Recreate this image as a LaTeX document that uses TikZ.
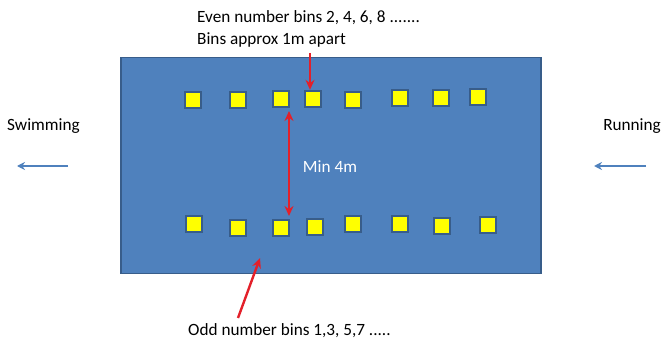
\documentclass[tikz,border=0pt]{standalone}
\usepackage{fontspec}
\setmainfont{Carlito}
\usetikzlibrary{arrows.meta}
\definecolor{poolblue}{HTML}{4F81BD}
\definecolor{pooledge}{HTML}{385D8A}
\definecolor{binyellow}{HTML}{FFFF00}
\definecolor{arrowred}{HTML}{E3202A}
\tikzset{
  bin/.style={draw=pooledge, line width=1.8pt, fill=binyellow, minimum width=16.5pt, minimum height=16.5pt, inner sep=0pt},
  lbl/.style={font=\fontsize{17.2}{20}\selectfont, text=black, inner sep=0pt},
  redarrow/.style={draw=arrowred, line width=2.4pt, -{Stealth[length=10pt,width=9pt]}},
  bluearrow/.style={draw=poolblue, line width=1.8pt, -{Stealth[length=8pt,width=8pt]}}
}
\begin{document}
\begin{tikzpicture}[x=1pt,y=-1pt]
\useasboundingbox (0,0) rectangle (664,339);
% pool
\node[draw=pooledge, line width=1.5pt, fill=poolblue, minimum width=420pt, minimum height=216pt, inner sep=0pt] (pool) at (331,165.5) {};
% top row bins
\node[bin] (t1) at (193,100) {};
\node[bin] (t2) at (238,100) {};
\node[bin] (t3) at (281,99) {};
\node[bin] (t4) at (313,99) {};
\node[bin] (t5) at (353,100) {};
\node[bin] (t6) at (400,98) {};
\node[bin] (t7) at (441,98) {};
\node[bin] (t8) at (478,97) {};
% bottom row bins
\node[bin] (b1) at (194,224) {};
\node[bin] (b2) at (238,228) {};
\node[bin] (b3) at (281,228) {};
\node[bin] (b4) at (315,227) {};
\node[bin] (b5) at (353,224) {};
\node[bin] (b6) at (400,224) {};
\node[bin] (b7) at (442,226) {};
\node[bin] (b8) at (488,225) {};
% texts
\node[lbl, anchor=west] (even) at (197,18) {Even number bins 2, 4, 6, 8 .......};
\node[lbl, anchor=west] (apart) at (197,40) {Bins approx 1m apart};
\node[lbl, anchor=west] (odd) at (188,331) {Odd number bins 1,3, 5,7 .....};
\node[lbl, anchor=west] (swim) at (7,126) {Swimming};
\node[lbl, anchor=east] (run) at (661,126) {Running};
\node[lbl, text=white] (min) at (330,167) {Min 4m};
% red arrows
\coordinate (evenstart) at (310,53);
\draw[redarrow] (evenstart) -- (t4.north -| evenstart);
\coordinate (oddstart) at (238,318);
\coordinate (oddtip) at (260,258);
\draw[redarrow] (oddstart) -- (oddtip);
\coordinate (mtop) at (289,111);
\coordinate (mbot) at (289,216);
\draw[draw=arrowred, line width=2.4pt, {Stealth[length=10pt,width=9pt]}-{Stealth[length=10pt,width=9pt]}] (mtop) -- (mbot);
% blue arrows
\coordinate (s1) at (68,166);
\coordinate (s2) at (17,166);
\draw[bluearrow] (s1) -- (s2);
\coordinate (r1) at (646,166);
\coordinate (r2) at (594,166);
\draw[bluearrow] (r1) -- (r2);
\end{tikzpicture}
\end{document}
